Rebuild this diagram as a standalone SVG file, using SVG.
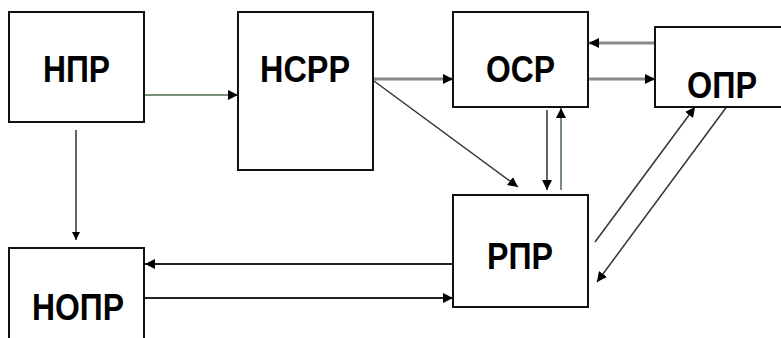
<svg xmlns="http://www.w3.org/2000/svg" width="781" height="338" viewBox="0 0 781 338">
  <style>
    .box { fill: #ffffff; stroke: #111111; stroke-width: 2; }
    .lbl { font-family: "Liberation Sans", Arial, sans-serif; font-weight: bold; font-size: 37px; fill: #000000; }
    .ln { fill: none; stroke: #333333; stroke-width: 1.5; }
    .lk { fill: none; stroke: #222222; stroke-width: 2; }
    .lg { fill: none; stroke: #8a8a8a; stroke-width: 3; }
    .green { stroke: #4e6a4e; }
  </style>
  <defs>
    <marker id="ah" viewBox="0 0 10 10" refX="10" refY="5" markerWidth="8" markerHeight="8" markerUnits="userSpaceOnUse" orient="auto">
      <path d="M0,0 L10,5 L0,10 Z" fill="#000000"/>
    </marker>
    <marker id="ahs" viewBox="0 0 10 10" refX="10" refY="5" markerWidth="10" markerHeight="10" markerUnits="userSpaceOnUse" orient="auto">
      <path d="M0,0 L10,5 L0,10 Z" fill="#000000"/>
    </marker>
  </defs>

  <g id="connectors">
    <!-- НПР -> НСРР -->
    <line class="ln green" x1="145" y1="95" x2="238" y2="95" marker-end="url(#ahs)"/>
    <!-- НПР -> НОПР -->
    <line class="ln" x1="76" y1="130" x2="76" y2="240" marker-end="url(#ah)"/>
    <!-- НСРР -> ОСР -->
    <line class="lg" x1="374" y1="79" x2="453" y2="79" marker-end="url(#ahs)"/>
    <!-- НСРР -> РПР -->
    <line class="ln" x1="374" y1="81" x2="518" y2="187" marker-end="url(#ahs)"/>
    <!-- ОПР -> ОСР -->
    <line class="lg" x1="655" y1="43" x2="589" y2="43" marker-end="url(#ahs)"/>
    <!-- ОСР -> ОПР -->
    <line class="lg" x1="589" y1="79" x2="655" y2="79" marker-end="url(#ahs)"/>
    <!-- ОСР -> РПР -->
    <line class="ln" x1="547" y1="110" x2="547" y2="190" marker-end="url(#ahs)"/>
    <!-- РПР -> ОСР -->
    <line class="ln green" x1="561" y1="190" x2="561" y2="108" marker-end="url(#ahs)"/>
    <!-- РПР -> ОПР -->
    <line class="ln" x1="595" y1="242" x2="695" y2="107" marker-end="url(#ahs)"/>
    <!-- ОПР -> РПР -->
    <line class="ln" x1="728" y1="105" x2="597" y2="282" marker-end="url(#ahs)"/>
    <!-- РПР -> НОПР -->
    <line class="lk" x1="453" y1="264" x2="145" y2="264" marker-end="url(#ahs)"/>
    <!-- НОПР -> РПР -->
    <line class="lk" x1="145" y1="298" x2="453" y2="298" marker-end="url(#ahs)"/>
  </g>

  <g id="npr">
    <rect class="box" x="9" y="12" width="135" height="110"/>
    <text class="lbl" x="43" y="82" textLength="67" lengthAdjust="spacingAndGlyphs">НПР</text>
  </g>
  <g id="nsrr">
    <rect class="box" x="238" y="12" width="135" height="158"/>
    <text class="lbl" x="260" y="82" textLength="90" lengthAdjust="spacingAndGlyphs">НСРР</text>
  </g>
  <g id="osr">
    <rect class="box" x="453" y="12" width="135" height="95"/>
    <text class="lbl" x="486" y="82" textLength="69" lengthAdjust="spacingAndGlyphs">ОСР</text>
  </g>
  <g id="opr">
    <rect class="box" x="655" y="27" width="135" height="80"/>
    <text class="lbl" x="687" y="98" textLength="70" lengthAdjust="spacingAndGlyphs">ОПР</text>
  </g>
  <g id="rpr">
    <rect class="box" x="453" y="195" width="135" height="112"/>
    <text class="lbl" x="487" y="269" textLength="66" lengthAdjust="spacingAndGlyphs">РПР</text>
  </g>
  <g id="nopr">
    <rect class="box" x="9" y="248" width="135" height="110"/>
    <text class="lbl" x="32" y="320" textLength="92" lengthAdjust="spacingAndGlyphs">НОПР</text>
  </g>
</svg>
